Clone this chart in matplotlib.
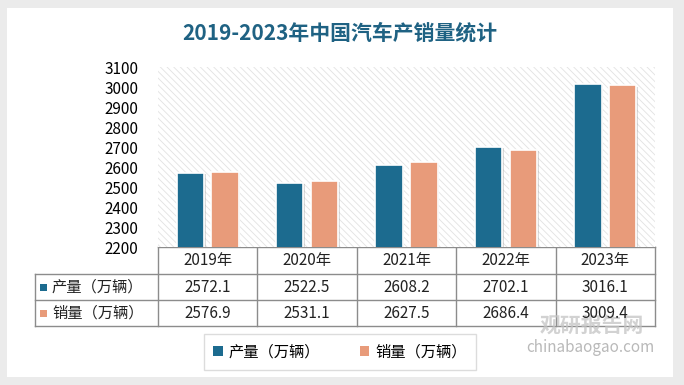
import matplotlib
matplotlib.use("Agg")
import matplotlib.pyplot as plt
from matplotlib.patches import Rectangle
from matplotlib import patheffects as pe

plt.rcParams['font.family'] = ['Noto Sans CJK SC', 'DejaVu Sans']
plt.rcParams['hatch.linewidth'] = 0.6

# data
years = ["2019年", "2020年", "2021年", "2022年", "2023年"]
production = [2572.1, 2522.5, 2608.2, 2702.1, 3016.1]
sales = [2576.9, 2531.1, 2627.5, 2686.4, 3009.4]
series_names = ["产量（万辆）", "销量（万辆）"]
title = "2019-2023年中国汽车产销量统计"

blue = "#1c6b8f"
orange = "#e89b7a"
grid_col = "#8c8c8c"

W, H = 684, 385
fig = plt.figure(figsize=(W / 100, H / 100), dpi=100)
fig.patch.set_facecolor("#ebebeb")

# overlay in pixel coordinates for card, table and legend box
bg = fig.add_axes([0, 0, 1, 1])
bg.set_xlim(0, W)
bg.set_ylim(H, 0)
bg.axis("off")
bg.add_patch(Rectangle((7, 8), 666, 369, facecolor="white", edgecolor="none"))

# plot area
x0, x1 = 158, 655
y_top, y_bot = 67, 247
ax = fig.add_axes([x0 / W, 1 - y_bot / H, (x1 - x0) / W, (y_bot - y_top) / H])
ax.set_facecolor("none")
ax.add_patch(Rectangle((0, 0), 1, 1, transform=ax.transAxes, facecolor="white",
                       edgecolor="#e2e2e2", hatch="\\" * 5, lw=0, zorder=0))

xs = list(range(len(years)))
bw = 0.275
off = 0.175
shadow = [pe.SimplePatchShadow(offset=(1.2, -1.2), shadow_rgbFace="#999999", alpha=0.35), pe.Normal()]
b1 = ax.bar([x - off for x in xs], production, bw, color=blue, edgecolor="white",
            lw=1.2, zorder=3, path_effects=shadow, label=series_names[0])
b2 = ax.bar([x + off for x in xs], sales, bw, color=orange, edgecolor="white",
            lw=1.2, zorder=3, path_effects=shadow, label=series_names[1])

ax.set_xlim(-0.5, len(years) - 0.5)
ax.set_ylim(2200, 3100)
ax.set_yticks(range(2200, 3101, 100))
ax.tick_params(axis="y", length=0, labelsize=11, pad=14)
ax.set_xticks([])
for s in ax.spines.values():
    s.set_visible(False)

# data table
col_w = (x1 - x0) / len(years)
rows_y = [247, 274, 300, 326]
label_x0 = 35
for i in range(len(years) + 1):
    cx = x0 + i * col_w
    bg.plot([cx, cx], [rows_y[0], rows_y[-1]], color=grid_col, lw=1)
bg.plot([label_x0, label_x0], [rows_y[1], rows_y[-1]], color=grid_col, lw=1)
bg.plot([x0, x1], [rows_y[0], rows_y[0]], color=grid_col, lw=1)
for ry in rows_y[1:]:
    bg.plot([label_x0, x1], [ry, ry], color=grid_col, lw=1)

for i, y in enumerate(years):
    cx = x0 + (i + 0.5) * col_w
    bg.text(cx, (rows_y[0] + rows_y[1]) / 2, y, ha="center", va="center", fontsize=11, color="#222222")
    bg.text(cx, (rows_y[1] + rows_y[2]) / 2, f"{production[i]:.1f}", ha="center", va="center", fontsize=11, color="#222222")
    bg.text(cx, (rows_y[2] + rows_y[3]) / 2, f"{sales[i]:.1f}", ha="center", va="center", fontsize=11, color="#222222", zorder=6)

for k, (name, c) in enumerate(zip(series_names, [blue, orange])):
    cy = (rows_y[k + 1] + rows_y[k + 2]) / 2
    bg.add_patch(Rectangle((40, cy - 3.5), 7, 7, facecolor=c, edgecolor="none"))
    bg.text(52, cy, name, ha="left", va="center", fontsize=11, color="#222222")

# watermark
bg.text(592, 325, "观研报告网", ha="center", va="center", fontsize=15, fontweight="bold",
        color="#c4c4c4", alpha=0.75, zorder=5)
bg.text(590, 347, "chinabaogao.com", ha="center", va="center", fontsize=11,
        color="#a8a8a8", alpha=0.8, zorder=5)

# legend
leg = fig.legend(handles=[b1, b2], labels=series_names, loc="center",
                 bbox_to_anchor=(340 / W, 1 - 352 / H), ncol=2, fontsize=11,
                 frameon=True, fancybox=False, edgecolor="#d4d4d4",
                 handlelength=0.6, handleheight=0.6, columnspacing=2.6,
                 handletextpad=0.4, borderpad=0.6)
for h in leg.legend_handles:
    h.set_path_effects([])
    h.set_edgecolor("none")

fig.text(340 / W, 1 - 33 / H, title, ha="center", va="center", fontsize=15,
         fontweight="bold", color="#1f6283")

fig.savefig("out.png", dpi=100, facecolor=fig.get_facecolor())
